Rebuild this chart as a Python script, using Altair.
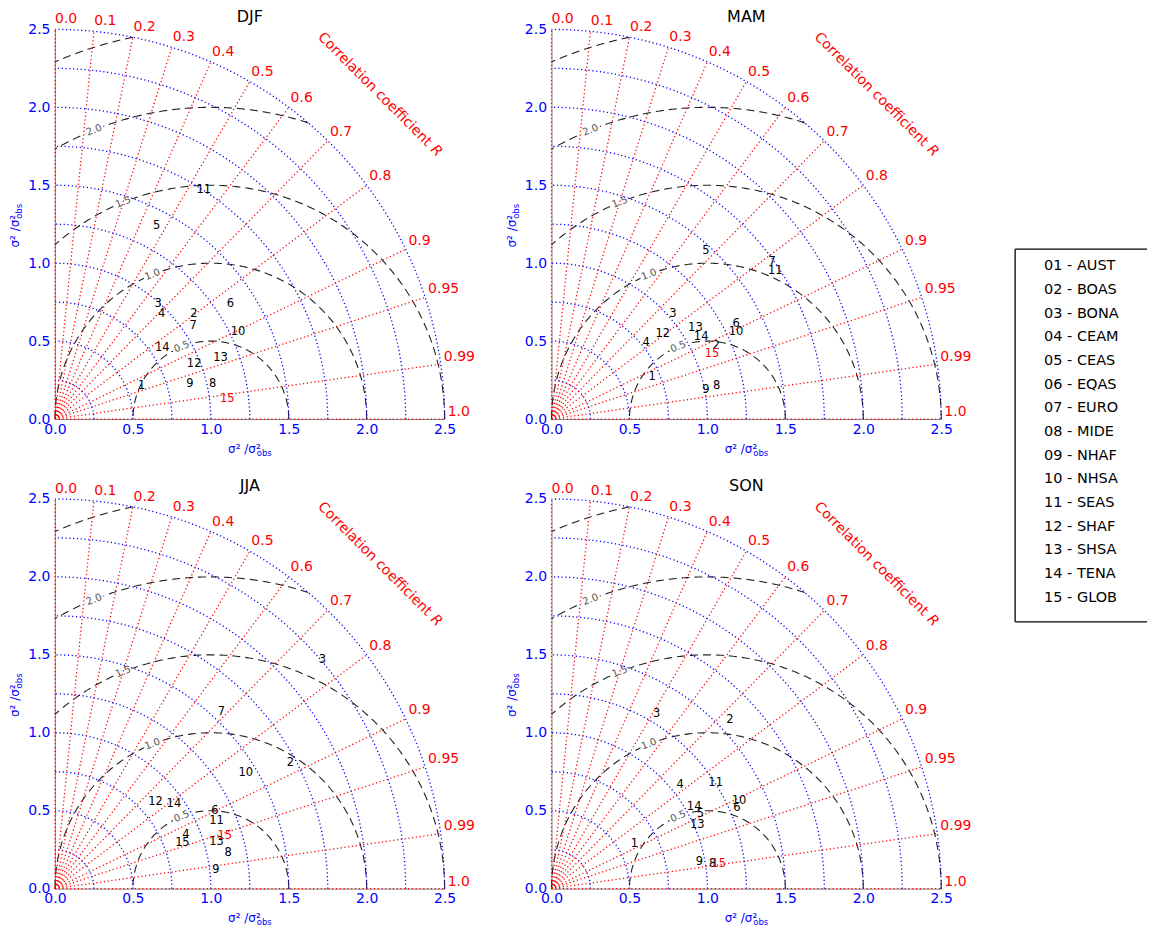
import altair as alt
import numpy as np
import pandas as pd

FONT = "DejaVu Sans"
BLUE = "#0000ff"
RED = "#ff0000"
DASH = "#222222"

# ---------------- data ----------------
legend_entries = ["01 - AUST", "02 - BOAS", "03 - BONA", "04 - CEAM", "05 - CEAS",
                  "06 - EQAS", "07 - EURO", "08 - MIDE", "09 - NHAF", "10 - NHSA",
                  "11 - SEAS", "12 - SHAF", "13 - SHSA", "14 - TENA", "15 - GLOB"]

axis_ticks = [0.0, 0.5, 1.0, 1.5, 2.0, 2.5]
std_radii = [0.25, 0.5, 0.75, 1.0, 1.25, 1.5, 1.75, 2.0, 2.25, 2.5]
corr_values = [0.0, 0.1, 0.2, 0.3, 0.4, 0.5, 0.6, 0.7, 0.8, 0.9, 0.95, 0.99, 1.0]
corr_text = ["0.0", "0.1", "0.2", "0.3", "0.4", "0.5", "0.6", "0.7", "0.8", "0.9",
             "0.95", "0.99", "1.0"]
rmsd_radii = [0.5, 1.0, 1.5, 2.0, 2.5]
rmsd_label_radii = [0.5, 1.0, 1.5, 2.0]
rmsd_label_text = ["0.5", "1.0", "1.5", "2.0"]

DJF_id = ["1", "2", "3", "4", "5", "6", "7", "8", "9", "10", "11", "12", "13", "14", "15"]
DJF_x = [0.556, 0.891, 0.662, 0.684, 0.652, 1.126, 0.887, 1.011, 0.865, 1.175, 0.955, 0.893, 1.062, 0.688, 1.105]
DJF_y = [0.210, 0.671, 0.739, 0.671, 1.241, 0.739, 0.596, 0.222, 0.222, 0.558, 1.472, 0.355, 0.389, 0.457, 0.130]

MAM_id = ["1", "2", "3", "4", "5", "6", "7", "8", "9", "10", "11", "12", "13", "14", "15"]
MAM_x = [0.645, 1.056, 0.778, 0.607, 0.991, 1.184, 1.415, 1.060, 0.991, 1.184, 1.436, 0.714, 0.923, 0.960, 1.030]
MAM_y = [0.271, 0.468, 0.675, 0.489, 1.077, 0.607, 1.008, 0.212, 0.184, 0.558, 0.949, 0.547, 0.581, 0.526, 0.415]

JJA_id = ["1", "2", "3", "4", "5", "6", "7", "8", "9", "10", "11", "12", "13", "14", "15"]
JJA_x = [0.795, 1.511, 1.716, 0.840, 0.840, 1.026, 1.068, 1.111, 1.032, 1.224, 1.036, 0.645, 1.036, 0.763, 1.090]
JJA_y = [0.292, 0.803, 1.468, 0.344, 0.292, 0.500, 1.135, 0.226, 0.120, 0.744, 0.436, 0.553, 0.297, 0.545, 0.340]

SON_id = ["1", "2", "3", "4", "5", "6", "8", "9", "10", "11", "13", "14", "15"]
SON_x = [0.532, 1.145, 0.675, 0.825, 0.955, 1.190, 1.034, 0.949, 1.203, 1.053, 0.935, 0.915, 1.073]
SON_y = [0.286, 1.081, 1.120, 0.667, 0.479, 0.516, 0.158, 0.169, 0.560, 0.675, 0.406, 0.521, 0.158]

# ---------------- geometry tables (grid of the Taylor diagram) ----------------
rows = []
for r in std_radii:
    for i, t in enumerate(np.linspace(0, np.pi / 2, 181)):
        rows.append({"g": r, "i": i, "x": r * np.cos(t), "y": r * np.sin(t)})
std_df = pd.DataFrame(rows)

rows = []
for c in corr_values:
    a = np.arccos(c)
    rows.append({"g": c, "i": 0, "x": 0.0, "y": 0.0})
    rows.append({"g": c, "i": 1, "x": 2.5 * np.cos(a), "y": 2.5 * np.sin(a)})
corr_df = pd.DataFrame(rows)

corr_lab_df = pd.DataFrame({
    "t": corr_text,
    "x": [2.52 * c for c in corr_values],
    "y": [2.52 * np.sqrt(max(0.0, 1 - c * c)) for c in corr_values],
})

rows = []
for R in rmsd_radii:
    tmin = np.arccos(min(1.0, (2.5 ** 2 - 1 - R * R) / (2 * R)))
    tmax = np.arccos(max(-1.0, -1.0 / R))
    for i, t in enumerate(np.linspace(tmin, tmax, 300)):
        rows.append({"g": R, "i": i, "x": 1 + R * np.cos(t), "y": R * np.sin(t)})
rmsd_df = pd.DataFrame(rows)

lab_ang = np.deg2rad(112)
rmsd_lab_df = pd.DataFrame({
    "t": rmsd_label_text,
    "x": [1 + R * np.cos(lab_ang) for R in rmsd_label_radii],
    "y": [R * np.sin(lab_ang) for R in rmsd_label_radii],
})

XS = alt.Scale(domain=[0, 2.5], nice=False, zero=False)
YS = alt.Scale(domain=[0, 2.5], nice=False, zero=False)
XA = alt.Axis(values=axis_ticks, format=".1f", labelColor=BLUE, labelFontSize=14, labelFont=FONT,
              ticks=False, grid=False, title=None, domainColor="#888888", labelPadding=3,
              labelFlush=False, labelOverlap=False)
YA = alt.Axis(values=axis_ticks, format=".1f", labelColor=BLUE, labelFontSize=14, labelFont=FONT,
              ticks=False, grid=False, title=None, domainColor="#888888", labelPadding=5,
              labelFlush=False, labelOverlap=False)


def enc():
    return dict(x=alt.X("x:Q", scale=XS, axis=XA), y=alt.Y("y:Q", scale=YS, axis=YA))


def panel(name, ids, xs, ys):
    pts = pd.DataFrame({"id": ids, "x": xs, "y": ys})
    one = pd.DataFrame({"x": [1.25], "y": [2.55], "t": [name]})
    xt = pd.DataFrame({"x": [1.32], "y": [-0.19]})
    yt = pd.DataFrame({"x": [-0.256], "y": [1.31]})
    ct = pd.DataFrame({"x": [2.083], "y": [2.083]})
    anchor = pd.DataFrame({"a": [0]})

    layers = [
        # invisible anchor that fixes the panel's outer top-left margin
        alt.Chart(anchor).mark_rule(opacity=0, strokeWidth=1).encode(
            x=alt.value(-47), x2=alt.value(-46), y=alt.value(-20)),
        alt.Chart(rmsd_df).mark_line(color=DASH, strokeWidth=1.1, strokeDash=[8, 5]).encode(
            detail="g:N", order="i:Q", **enc()),
        alt.Chart(rmsd_lab_df).mark_text(font=FONT, fontSize=10, angle=338, color="white",
                                         stroke="white", strokeWidth=5).encode(text="t:N", **enc()),
        alt.Chart(std_df).mark_line(color=BLUE, strokeWidth=1.3, strokeDash=[1.2, 2.6]).encode(
            detail="g:N", order="i:Q", **enc()),
        alt.Chart(corr_df).mark_line(color=RED, strokeWidth=1.3, strokeDash=[1.2, 2.6]).encode(
            detail="g:N", order="i:Q", **enc()),
        alt.Chart(rmsd_lab_df).mark_text(font=FONT, fontSize=10, angle=338, color="#555555").encode(
            text="t:N", **enc()),
        alt.Chart(corr_lab_df).mark_text(font=FONT, fontSize=14, color=RED, align="left",
                                         baseline="bottom").encode(text="t:N", **enc()),
        alt.Chart(ct).mark_text(font=FONT, fontSize=14, color=RED, angle=45, dx=-7,
                                text="Correlation coefficient").encode(**enc()),
        alt.Chart(ct).mark_text(font=FONT, fontSize=14, color=RED, angle=45, dx=80,
                                fontStyle="italic", text="R").encode(**enc()),
        alt.Chart(pts).mark_text(font=FONT, fontSize=11.5).encode(
            text="id:N",
            color=alt.condition(alt.datum.id == "15", alt.value(RED), alt.value("black")),
            **enc()),
        alt.Chart(one).mark_text(font=FONT, fontSize=16, color="black",
                                 baseline="alphabetic").encode(text="t:N", **enc()),
        alt.Chart(xt).mark_text(font=FONT, fontSize=12, color=BLUE, align="right",
                                baseline="middle", text="σ² /σ²").encode(**enc()),
        alt.Chart(xt).mark_text(font=FONT, fontSize=8.5, color=BLUE, align="left",
                                baseline="middle", dx=-4, dy=4, text="obs").encode(**enc()),
        alt.Chart(yt).mark_text(font=FONT, fontSize=12, color=BLUE, align="right", angle=270,
                                baseline="middle", text="σ² /σ²").encode(**enc()),
        alt.Chart(yt).mark_text(font=FONT, fontSize=8.5, color=BLUE, align="left", angle=270,
                                baseline="middle", dx=-4, dy=4, text="obs").encode(**enc()),
    ]
    return alt.layer(*layers).properties(width=390, height=390)


# legend panel: sits in the third grid column (which starts 107px right of MAM);
# the box begins 33px to the left of that column
leg_df = pd.DataFrame({"label": legend_entries, "idx": list(range(len(legend_entries)))})
box_edges = pd.DataFrame({"a": [0]})
legend_panel = alt.layer(
    alt.Chart(box_edges).mark_rule(color="black", strokeWidth=1.3).encode(
        x=alt.value(-33), x2=alt.value(99), y=alt.value(220)),
    alt.Chart(box_edges).mark_rule(color="black", strokeWidth=1.3).encode(
        x=alt.value(-33), x2=alt.value(99), y=alt.value(593)),
    alt.Chart(box_edges).mark_rule(color="black", strokeWidth=1.3).encode(
        x=alt.value(-33), y=alt.value(220), y2=alt.value(593)),
    alt.Chart(leg_df).mark_text(font=FONT, fontSize=14.5, align="left", baseline="middle",
                                color="black").encode(
        x=alt.value(-4),
        y=alt.Y("idx:Q", scale=alt.Scale(domain=[-10, 6.456], reverse=True, nice=False, zero=False),
                axis=None),
        text="label:N"),
).properties(width=99, height=390)

chart = alt.concat(
    panel("DJF", DJF_id, DJF_x, DJF_y),
    panel("MAM", MAM_id, MAM_x, MAM_y),
    legend_panel,
    panel("JJA", JJA_id, JJA_x, JJA_y),
    panel("SON", SON_id, SON_x, SON_y),
    columns=3, spacing={"row": 80, "column": 107}, bounds="flush",
).configure_view(stroke=None).properties(
    padding={"left": 0, "top": 0, "right": 0, "bottom": 0})

chart.save("out.html", embed_options={"renderer": "svg", "actions": False})
